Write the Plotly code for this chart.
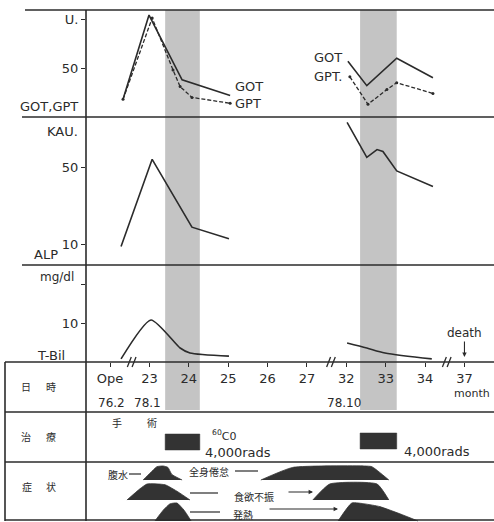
import plotly.graph_objects as go

W, H = 494, 522
INK = "#2b2b2b"
BAND = "#c4c4c4"
FONT = "DejaVu Sans"
JP = "Noto Sans CJK JP"

# ---------------- data ----------------
# broken time axis (months after operation); positions are slots on the axis
tick_pos = [0, 1, 2, 3, 4, 5, 6, 7, 8, 9]
tick_labels = ["Ope", "23", "24", "25", "26", "27", "32", "33", "34", "37"]
date_pos = [0.03, 0.94, 5.94]
date_labels = ["76.2", "78.1", "78.10"]
break_pos = [0.55, 5.61, 8.55]

# GOT / GPT (U.)
got1_x = [0.33, 0.99, 1.83, 3.05]
got1_y = [18, 104, 38, 22]
gpt1_x = [0.33, 1.07, 1.60, 1.78, 2.08, 3.05]
gpt1_y = [18, 101, 48, 31, 20, 14]
got2_x = [6.04, 6.52, 7.28, 8.20]
got2_y = [57, 32, 60, 40]
gpt2_x = [6.09, 6.55, 7.03, 7.28, 8.20]
gpt2_y = [41, 13, 28, 35, 24]

# ALP (KAU.)
alp1_x = [0.28, 1.07, 2.08, 3.02]
alp1_y = [9, 54, 19, 13]
alp2_x = [6.02, 6.52, 6.78, 6.93, 7.28, 8.20]
alp2_y = [73, 55, 59, 58, 48, 40]

# T-Bil (mg/dl)
tbil1_x = [0.28, 1.04, 1.78, 2.03, 3.02]
tbil1_y = [0.8, 10.8, 3.6, 2.3, 1.5]
tbil2_x = [6.02, 6.52, 6.98, 8.17]
tbil2_y = [4.9, 3.6, 2.3, 0.8]
death_x = 9.0
death_y = 1.3

# radiation therapy periods (60Co, 4,000 rads each)
rad_start = [1.40, 6.35]
rad_end = [2.28, 7.28]

# symptoms: (name, lane, x positions, relative intensity)
sym_names = ["腹水", "全身倦怠", "食欲不振", "食欲不振", "発熱", "発熱"]
sym_lane = [0, 0, 1, 1, 2, 2]
sym_x = [
    [0.84, 1.02, 1.19, 1.35, 1.47, 1.57, 1.83],
    [3.83, 4.64, 6.47, 6.65, 7.08],
    [0.43, 0.76, 0.94, 1.40, 1.73, 2.03],
    [5.15, 5.58, 6.78, 7.08],
    [1.14, 1.35, 1.52, 1.70, 1.88, 2.06],
    [5.79, 6.14, 6.47, 6.85, 7.36, 7.82],
]
sym_v = [
    [0, 0.5, 0.95, 1, 0.9, 0.4, 0],
    [0, 0.9, 1, 0.95, 0],
    [0, 0.7, 1, 0.95, 0.5, 0],
    [0, 1, 1, 0],
    [0, 0.6, 0.95, 1, 0.6, 0],
    [0, 1, 0.95, 0.8, 0.4, 0],
]

# ---------------- layout helpers ----------------
def px(x):
    return x / W


def py(y):
    return 1 - y / H


lane_base = [42, 22, 1]
lane_h = [14, 16, 18]

fig = go.Figure()

line_kw = dict(color=INK, width=1.6)
for xs, ys in [(got1_x, got1_y), (got2_x, got2_y)]:
    fig.add_trace(go.Scatter(x=xs, y=ys, mode="lines", line=line_kw, yaxis="y", hoverinfo="skip"))
for xs, ys in [(gpt1_x, gpt1_y), (gpt2_x, gpt2_y)]:
    fig.add_trace(go.Scatter(x=xs, y=ys, mode="lines+markers",
                             line=dict(color=INK, width=1.3, dash="4px,2px"),
                             marker=dict(size=3, color=INK), yaxis="y", hoverinfo="skip"))
for xs, ys in [(alp1_x, alp1_y), (alp2_x, alp2_y)]:
    fig.add_trace(go.Scatter(x=xs, y=ys, mode="lines", line=line_kw, yaxis="y2", hoverinfo="skip"))
fig.add_trace(go.Scatter(x=tbil1_x, y=tbil1_y, mode="lines", line=dict(color=INK, width=1.6, shape="spline", smoothing=0.6), yaxis="y3", hoverinfo="skip"))
fig.add_trace(go.Scatter(x=tbil2_x, y=tbil2_y, mode="lines", line=dict(color=INK, width=1.6, shape="spline", smoothing=0.8), yaxis="y3", hoverinfo="skip"))

# radiation bars in the treatment row
for i, (a, b) in enumerate(zip(rad_start, rad_end)):
    top, bot = (88, 72) if i == 0 else (89, 73)
    fig.add_trace(go.Scatter(x=[a, b, b, a, a], y=[bot, bot, top, top, bot], mode="lines",
                             fill="toself", fillcolor="#333333", line=dict(color="#333333", width=0.5),
                             yaxis="y4", hoverinfo="skip"))

# symptom mounds
for lane, xs, vs in zip(sym_lane, sym_x, sym_v):
    ys = [lane_base[lane] + lane_h[lane] * v for v in vs]
    fig.add_trace(go.Scatter(x=xs, y=ys, mode="lines", fill="toself", fillcolor="#333333",
                             line=dict(color="#333333", width=0.8, shape="spline", smoothing=0.5),
                             yaxis="y4", hoverinfo="skip"))

shapes = []
# shaded radiation bands
for a, b in zip(rad_start, rad_end):
    shapes.append(dict(type="rect", xref="x", yref="paper", x0=a, x1=b, y0=py(410), y1=py(10),
                       fillcolor=BAND, line=dict(width=0), layer="below"))
# frame lines
for y, x0 in [(10, 25), (117, 22), (265, 22), (362, 5), (412, 5), (462, 5), (520, 5)]:
    shapes.append(dict(type="line", xref="paper", yref="paper", x0=px(x0), x1=1, y0=py(y), y1=py(y),
                       line=dict(color=INK, width=1.6)))
for x, y0, y1 in [(86, 10, 521), (5, 362, 521)]:
    shapes.append(dict(type="line", xref="paper", yref="paper", x0=px(x), x1=px(x), y0=py(y0), y1=py(y1),
                       line=dict(color=INK, width=1.6)))
# axis breaks
for b in break_pos:
    for d in (-0.06, 0.06):
        shapes.append(dict(type="line", xref="x", yref="paper", x0=b + d - 0.05, x1=b + d + 0.05,
                           y0=py(367), y1=py(357), line=dict(color=INK, width=1.3)))
# symptom connector lines (no heads)
for x0, x1, y in [(129, 141, 474), (235, 258, 471), (190, 218, 493), (190, 220, 512)]:
    shapes.append(dict(type="line", xref="paper", yref="paper", x0=px(x0), x1=px(x1), y0=py(y), y1=py(y),
                       line=dict(color=INK, width=1.2)))

ann = []


def text(x, y, s, size=13, family=FONT, xanchor="center"):
    ann.append(dict(x=px(x), y=py(y), xref="paper", yref="paper", text=s, showarrow=False,
                    font=dict(size=size, family=family, color=INK), xanchor=xanchor, yanchor="middle"))


text(80, 107, "GOT,GPT", 13, xanchor="right")
text(80, 131, "KAU.", 13, xanchor="right")
text(60, 254, "ALP", 13, xanchor="right")
text(76, 277, "mg/dl", 12, xanchor="right")
text(67, 355, "T-Bil", 13, xanchor="right")
text(233, 86, "GOT", 13, xanchor="left")
text(233, 103, "GPT", 13, xanchor="left")
text(312, 57, "GOT", 13, xanchor="left")
text(312, 76, "GPT.", 13, xanchor="left")
for p, s in zip(date_pos, date_labels):
    ann.append(dict(x=p, y=py(403), xref="x", yref="paper", text=s, showarrow=False,
                    yanchor="middle", font=dict(size=12, family=FONT, color=INK)))
text(472, 393, "month", 11)
# left column
for cx, cy, s in [(26, 386, "日"), (51, 386, "時"), (26, 436, "治"), (51, 436, "療"), (27, 486, "症"), (51, 486, "状")]:
    text(cx, cy, s, 10, JP)
text(117, 422, "手", 10, JP)
text(152, 422, "術", 10, JP)
text(210, 435, "<sup>60</sup>C0", 11, xanchor="left")
text(203, 452, "4,000rads", 13, xanchor="left")
text(402, 451, "4,000rads", 13, xanchor="left")
# symptom labels
text(118, 474, "腹水", 10, JP)
text(209, 471, "全身倦怠", 10, JP)
text(254, 496, "食欲不振", 10, JP)
text(243, 514, "発熱", 10, JP)
# arrows to the later episodes
for x0, x1, y in [(287, 313, 492), (268, 338, 509)]:
    ann.append(dict(x=px(x1), y=py(y), xref="paper", yref="paper", ax=x0 - x1, ay=0, text="",
                    showarrow=True, arrowhead=2, arrowsize=0.8, arrowwidth=1.1, arrowcolor=INK))
# death
ann.append(dict(x=death_x, y=death_y, xref="x", yref="y3", text="death", ax=0, ay=-24,
                showarrow=True, arrowhead=2, arrowsize=0.8, arrowwidth=1.1, arrowcolor=INK,
                font=dict(size=12, family=FONT, color=INK)))

ax_common = dict(showgrid=False, zeroline=False, showline=False, ticks="outside", ticklen=4,
                 tickwidth=1.4, tickcolor=INK, tickfont=dict(size=13, family=FONT, color=INK),
                 fixedrange=True)

fig.update_layout(
    width=W, height=H, margin=dict(l=0, r=0, t=0, b=0),
    paper_bgcolor="white", plot_bgcolor="rgba(0,0,0,0)", showlegend=False,
    font=dict(family=FONT, color=INK),
    xaxis=dict(domain=[px(86), 1], range=[-0.61, 9.75], anchor="y3", tickvals=tick_pos,
               ticktext=tick_labels, ticklabelstandoff=0, **ax_common),
    yaxis=dict(domain=[py(117), py(10)], range=[0, 109.2], anchor="x", tickvals=[50, 100],
               ticktext=["50", "U."], **ax_common),
    yaxis2=dict(domain=[py(264), py(117)], range=[0, 75.8], anchor="x", tickvals=[10, 50],
                ticktext=["10", "50"], **ax_common),
    yaxis3=dict(domain=[py(362), py(265)], range=[0, 24.9], anchor="x", tickvals=[10, 20],
                ticktext=["10", ""], **ax_common),
    yaxis4=dict(domain=[0, py(412)], range=[0, 110], anchor="x", visible=False, fixedrange=True),
    shapes=shapes, annotations=ann,
)

fig.write_html("out.html", config={"displayModeBar": False},
               post_script="document.body.style.margin='0';document.body.style.overflow='hidden';")
